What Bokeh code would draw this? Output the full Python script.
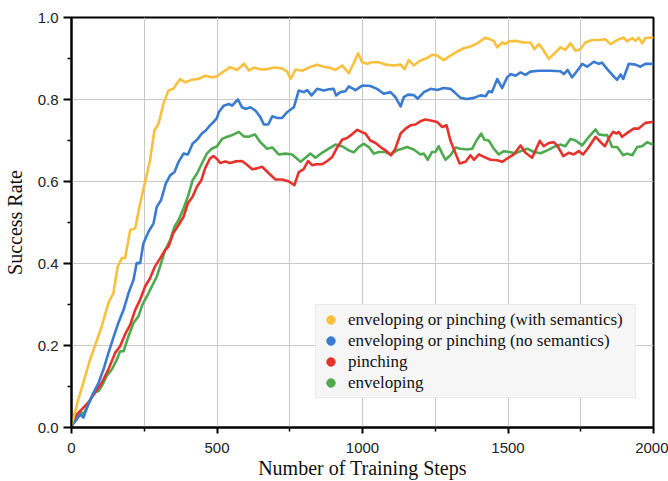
from bokeh.plotting import figure
from bokeh.models import (Range1d, FixedTicker, Legend, LegendItem)
from bokeh.embed import file_html
from bokeh.resources import INLINE

# ---------------- data ----------------
labels = ["enveloping or pinching (with semantics)",
          "enveloping or pinching (no semantics)",
          "pinching",
          "enveloping"]
colors = ["#F9C03E", "#3A7BD2", "#E5322A", "#4EA94F"]

sem_x = [0, 24, 41, 64, 81, 104, 127, 144, 159, 173, 184, 202, 219, 236, 253, 270, 285, 299, 316, 333,
         350, 373, 391, 413, 436, 459, 482, 499, 518, 546, 569, 593, 610, 627, 650, 673, 696, 724, 741, 753,
         770, 793, 816, 844, 867, 890, 907, 930, 953, 970, 985, 999, 1016, 1033, 1056, 1079, 1108, 1131, 1144,
         1159, 1176, 1199, 1222, 1239, 1257, 1279, 1302, 1325, 1348, 1371, 1394, 1423, 1451, 1463, 1480, 1491,
         1503, 1526, 1554, 1577, 1591, 1606, 1623, 1640, 1663, 1680, 1697, 1715, 1732, 1749, 1766, 1789, 1812,
         1835, 1852, 1875, 1898, 1909, 1927, 1938, 1949, 1961, 1972, 1995, 2000]
sem_y = [0.005, 0.07, 0.11, 0.166, 0.2, 0.247, 0.304, 0.328, 0.393, 0.413, 0.413, 0.482, 0.486, 0.547, 0.599,
         0.652, 0.725, 0.741, 0.79, 0.822, 0.826, 0.85, 0.842, 0.848, 0.85, 0.858, 0.854, 0.856, 0.866, 0.879,
         0.872, 0.887, 0.871, 0.878, 0.873, 0.874, 0.878, 0.876, 0.868, 0.85, 0.873, 0.870, 0.878, 0.885, 0.880,
         0.877, 0.872, 0.883, 0.864, 0.889, 0.913, 0.891, 0.887, 0.891, 0.891, 0.885, 0.883, 0.885, 0.874, 0.896,
         0.883, 0.895, 0.901, 0.909, 0.907, 0.896, 0.907, 0.917, 0.925, 0.929, 0.937, 0.951, 0.943, 0.927, 0.939,
         0.935, 0.942, 0.943, 0.939, 0.939, 0.923, 0.935, 0.919, 0.899, 0.915, 0.927, 0.921, 0.937, 0.919, 0.923,
         0.939, 0.945, 0.945, 0.947, 0.935, 0.945, 0.951, 0.942, 0.95, 0.943, 0.951, 0.937, 0.95, 0.951, 0.951]

nosem_x = [0, 18, 30, 41, 58, 76, 93, 110, 127, 144, 161, 179, 196, 213, 224, 236, 247, 265, 282, 293, 308,
           324, 339, 354, 368, 385, 400, 416, 434, 448, 462, 476, 488, 500, 506, 523, 541, 552, 572, 586, 598,
           615, 632, 649, 661, 676, 690, 707, 724, 741, 764, 781, 798, 810, 825, 844, 867, 884, 901, 909, 924,
           941, 953, 976, 999, 1027, 1050, 1073, 1096, 1113, 1131, 1142, 1156, 1176, 1190, 1211, 1234, 1257,
           1279, 1302, 1320, 1337, 1360, 1383, 1405, 1423, 1434, 1445, 1463, 1480, 1497, 1509, 1526, 1543, 1560,
           1577, 1606, 1646, 1680, 1692, 1705, 1720, 1738, 1755, 1772, 1795, 1812, 1823, 1841, 1861, 1875, 1887,
           1896, 1915, 1938, 1955, 1972, 1995, 2000]
nosem_y = [0.005, 0.02, 0.032, 0.024, 0.057, 0.085, 0.109, 0.142, 0.182, 0.219, 0.255, 0.287, 0.328, 0.36,
           0.401, 0.401, 0.449, 0.478, 0.498, 0.538, 0.555, 0.595, 0.615, 0.623, 0.648, 0.668, 0.666, 0.692,
           0.704, 0.717, 0.725, 0.737, 0.745, 0.755, 0.769, 0.785, 0.789, 0.785, 0.8, 0.781, 0.777, 0.781, 0.773,
           0.757, 0.739, 0.739, 0.759, 0.755, 0.755, 0.769, 0.781, 0.822, 0.818, 0.823, 0.81, 0.826, 0.822,
           0.825, 0.826, 0.81, 0.818, 0.82, 0.832, 0.823, 0.834, 0.833, 0.826, 0.814, 0.818, 0.806, 0.783, 0.806,
           0.812, 0.811, 0.802, 0.818, 0.826, 0.823, 0.828, 0.826, 0.815, 0.804, 0.801, 0.804, 0.81, 0.808, 0.82,
           0.818, 0.85, 0.828, 0.854, 0.862, 0.858, 0.866, 0.86, 0.868, 0.87, 0.87, 0.869, 0.862, 0.872, 0.854,
           0.87, 0.887, 0.88, 0.892, 0.887, 0.89, 0.874, 0.858, 0.848, 0.861, 0.85, 0.887, 0.885, 0.88, 0.887,
           0.887, 0.887]

pinch_x = [0, 18, 36, 58, 81, 104, 127, 150, 167, 184, 202, 219, 236, 253, 270, 287, 305, 322, 333, 350, 368,
           385, 400, 416, 431, 446, 459, 476, 488, 500, 511, 528, 546, 563, 586, 604, 621, 638, 655, 678, 701,
           724, 747, 766, 781, 798, 813, 827, 844, 861, 879, 896, 913, 930, 947, 964, 982, 999, 1010, 1027, 1045,
           1062, 1079, 1098, 1113, 1131, 1148, 1165, 1182, 1199, 1216, 1234, 1257, 1274, 1289, 1302, 1320, 1334,
           1354, 1371, 1383, 1400, 1417, 1440, 1463, 1480, 1497, 1520, 1543, 1560, 1583, 1609, 1623, 1640, 1657,
           1669, 1690, 1709, 1726, 1743, 1758, 1778, 1801, 1818, 1833, 1846, 1861, 1873, 1881, 1892, 1915, 1932,
           1949, 1972, 1995, 2000]
pinch_y = [0.004, 0.032, 0.045, 0.061, 0.085, 0.109, 0.142, 0.182, 0.198, 0.227, 0.251, 0.287, 0.312, 0.344,
           0.364, 0.393, 0.413, 0.433, 0.441, 0.474, 0.494, 0.514, 0.547, 0.563, 0.587, 0.603, 0.632, 0.656,
           0.662, 0.655, 0.645, 0.649, 0.645, 0.649, 0.65, 0.64, 0.63, 0.632, 0.636, 0.62, 0.605, 0.605, 0.6,
           0.591, 0.623, 0.63, 0.65, 0.64, 0.642, 0.642, 0.65, 0.66, 0.683, 0.702, 0.706, 0.715, 0.726, 0.72,
           0.717, 0.7, 0.694, 0.684, 0.676, 0.664, 0.68, 0.717, 0.729, 0.737, 0.739, 0.747, 0.751, 0.749, 0.745,
           0.733, 0.737, 0.7, 0.668, 0.644, 0.648, 0.664, 0.653, 0.666, 0.66, 0.653, 0.652, 0.648, 0.656, 0.666,
           0.688, 0.67, 0.658, 0.699, 0.686, 0.694, 0.696, 0.688, 0.662, 0.67, 0.666, 0.674, 0.666, 0.684, 0.709,
           0.696, 0.686, 0.705, 0.721, 0.717, 0.721, 0.709, 0.721, 0.729, 0.729, 0.743, 0.745, 0.745]

env_x = [0, 18, 30, 41, 58, 76, 93, 104, 121, 139, 156, 167, 179, 196, 213, 230, 244, 259, 276, 293, 308, 322,
         339, 354, 368, 385, 400, 416, 431, 448, 465, 482, 500, 518, 535, 552, 575, 592, 609, 630, 649, 672,
         690, 712, 735, 758, 787, 804, 821, 838, 861, 884, 907, 930, 953, 970, 987, 1004, 1022, 1039, 1056,
         1079, 1096, 1119, 1136, 1153, 1176, 1199, 1211, 1224, 1239, 1251, 1262, 1274, 1285, 1302, 1320, 1337,
         1360, 1377, 1392, 1408, 1419, 1434, 1451, 1468, 1486, 1503, 1526, 1543, 1566, 1589, 1612, 1635, 1657,
         1680, 1697, 1715, 1732, 1755, 1778, 1801, 1812, 1829, 1841, 1858, 1875, 1896, 1909, 1927, 1944, 1961,
         1978, 1995, 2000]
env_y = [0.004, 0.02, 0.04, 0.032, 0.057, 0.085, 0.089, 0.101, 0.126, 0.142, 0.166, 0.186, 0.186, 0.223, 0.255,
         0.271, 0.3, 0.32, 0.344, 0.368, 0.401, 0.433, 0.457, 0.49, 0.506, 0.534, 0.563, 0.603, 0.619, 0.644,
         0.668, 0.68, 0.686, 0.704, 0.709, 0.713, 0.721, 0.71, 0.709, 0.715, 0.696, 0.68, 0.683, 0.666, 0.668,
         0.666, 0.648, 0.658, 0.668, 0.658, 0.67, 0.68, 0.69, 0.686, 0.676, 0.671, 0.684, 0.692, 0.684, 0.668,
         0.672, 0.672, 0.666, 0.676, 0.68, 0.684, 0.678, 0.666, 0.668, 0.653, 0.672, 0.672, 0.686, 0.668, 0.653,
         0.664, 0.683, 0.68, 0.678, 0.68, 0.7, 0.717, 0.702, 0.7, 0.68, 0.666, 0.674, 0.672, 0.669, 0.674, 0.68,
         0.672, 0.669, 0.676, 0.684, 0.69, 0.686, 0.704, 0.7, 0.688, 0.709, 0.727, 0.715, 0.713, 0.713, 0.684,
         0.684, 0.664, 0.668, 0.664, 0.684, 0.686, 0.696, 0.691, 0.691]

x_ticks = [0, 500, 1000, 1500, 2000]
x_minor = [250, 750, 1250, 1750]
y_ticks = [0.0, 0.2, 0.4, 0.6, 0.8, 1.0]
y_tick_labels = ["0.0", "0.2", "0.4", "0.6", "0.8", "1.0"]
y_minor = [0.1, 0.3, 0.5, 0.7, 0.9]
x_title = "Number of Training Steps"
y_title = "Success Rate"

# ---------------- figure ----------------
p = figure(width=668, height=481, output_backend="svg", toolbar_location=None,
           x_range=Range1d(0, 2000), y_range=Range1d(0, 1.0),
           min_border_left=71, min_border_right=15, min_border_top=17, min_border_bottom=53)
p.background_fill_color = "white"
p.border_fill_color = "white"
p.outline_line_color = "black"
p.outline_line_width = 2

series = [(sem_x, sem_y), (nosem_x, nosem_y), (pinch_x, pinch_y), (env_x, env_y)]
for i in [3, 2, 1, 0]:
    xs, ys = series[i]
    p.line(xs, ys, line_color=colors[i], line_width=2.6, line_join="round")

nan = float("nan")
dots = []
for i in range(4):
    r = p.scatter(x=[nan], y=[nan], size=10, fill_color=colors[i], line_color=colors[i])
    dots.append(r)

legend = Legend(items=[LegendItem(label=labels[i], renderers=[dots[i]]) for i in range(4)],
                location=(244, 29), orientation="vertical")
legend.label_text_font = "Liberation Serif"
legend.label_text_font_size = "17px"
legend.label_text_color = "#111111"
legend.label_height = 21
legend.glyph_height = 21
legend.glyph_width = 21
legend.label_width = 283
legend.label_standoff = 7
legend.spacing = 0
legend.padding = 4
legend.margin = 0
legend.background_fill_color = "#f6f6f6"
legend.background_fill_alpha = 1.0
legend.border_line_color = "#dcdcdc"
legend.border_line_width = 1
p.add_layout(legend)

# axes
for ax in (p.xaxis[0], p.yaxis[0]):
    ax.axis_line_color = "black"
    ax.axis_line_width = 2
    ax.major_tick_line_color = "black"
    ax.major_tick_line_width = 2
    ax.minor_tick_line_color = "black"
    ax.minor_tick_line_width = 1.5
    ax.major_label_text_font = "Liberation Sans"
    ax.major_label_text_font_size = "15px"
    ax.major_label_text_color = "#222222"
    ax.axis_label_text_font = "Liberation Serif"
    ax.axis_label_text_font_size = "20px"
    ax.axis_label_text_font_style = "normal"
    ax.axis_label_text_color = "#111111"
    ax.major_tick_in = 0
    ax.minor_tick_in = 0

p.xaxis.axis_label = x_title
p.yaxis.axis_label = y_title
p.xaxis.ticker = FixedTicker(ticks=x_ticks, minor_ticks=x_minor)
p.yaxis.ticker = FixedTicker(ticks=y_ticks, minor_ticks=y_minor)
p.yaxis.major_label_overrides = {t: l for t, l in zip(y_ticks, y_tick_labels)}
p.xaxis.major_tick_out = 6
p.xaxis.minor_tick_out = 4
p.xaxis.major_label_standoff = 9
p.xaxis.axis_label_standoff = 1
p.yaxis.major_tick_out = 8
p.yaxis.minor_tick_out = 4
p.yaxis.major_label_standoff = 5
p.yaxis.axis_label_standoff = 9

p.xgrid.ticker = FixedTicker(ticks=x_minor + x_ticks[1:-1])
p.ygrid.ticker = FixedTicker(ticks=y_ticks[1:-1])
for g in (p.xgrid[0], p.ygrid[0]):
    g.grid_line_color = "#c8c8c8"
    g.grid_line_width = 1

open("out.html", "w").write(file_html(p, INLINE))
